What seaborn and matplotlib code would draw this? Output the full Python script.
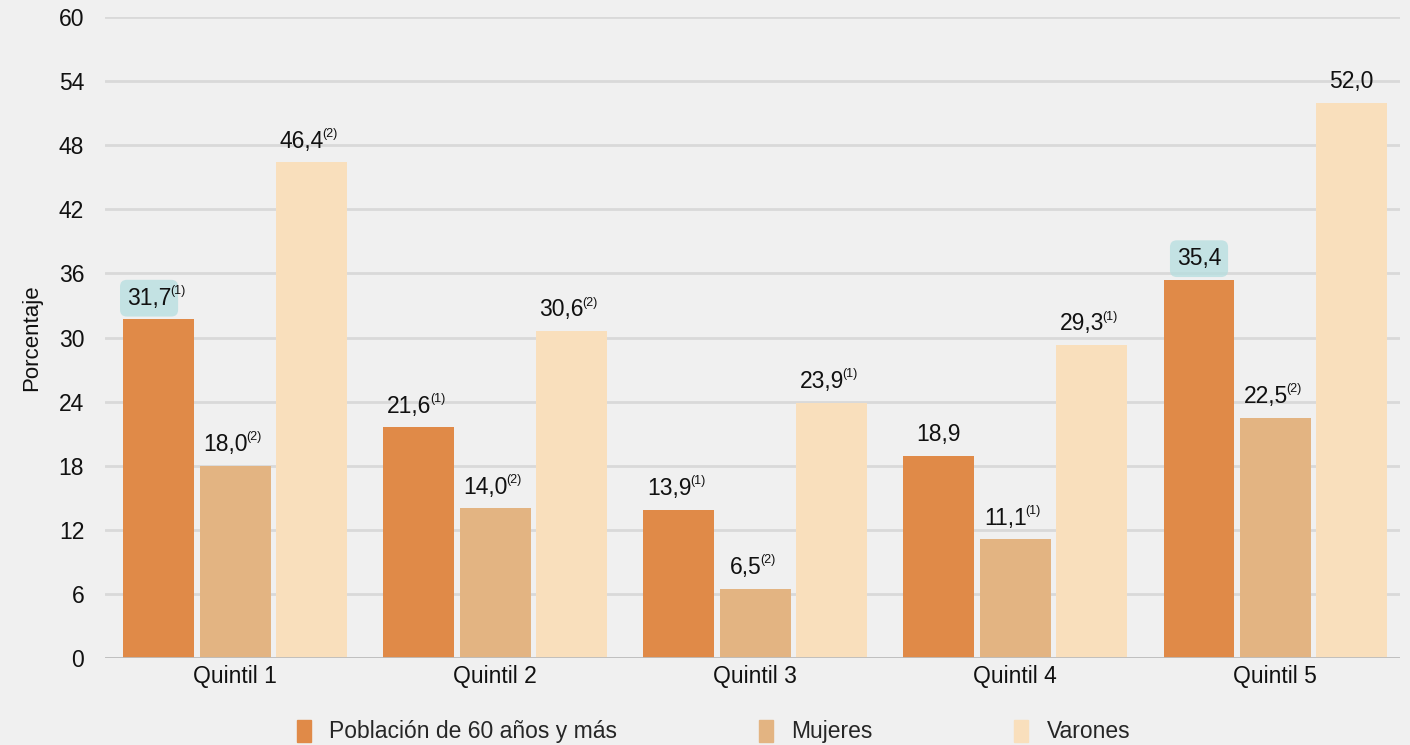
import matplotlib
matplotlib.use('Agg')
import matplotlib.pyplot as plt
import numpy as np
import pandas as pd
import seaborn as sns

quintiles = ['Quintil 1', 'Quintil 2', 'Quintil 3', 'Quintil 4', 'Quintil 5']
series_names = ['Población de 60 años y más', 'Mujeres', 'Varones']
poblacion = [31.7, 21.6, 13.9, 18.9, 35.4]
mujeres = [18.0, 14.0, 6.5, 11.1, 22.5]
varones = [46.4, 30.6, 23.9, 29.3, 52.0]
notas_poblacion = ['(1)', '(1)', '(1)', '', '']
notas_mujeres = ['(2)', '(2)', '(2)', '(1)', '(2)']
notas_varones = ['(2)', '(2)', '(1)', '(1)', '']
destacados = [(0, 0), (0, 4)]  # (serie, quintil) with brush highlight
yticks = [0, 6, 12, 18, 24, 30, 36, 42, 48, 54, 60]

colors = ['#E08A48', '#E3B482', '#F9DFBC']
bg = '#F0F0F0'

sns.set_style('white', {'axes.facecolor': bg, 'figure.facecolor': bg})
plt.rcParams['font.family'] = ['Liberation Sans', 'DejaVu Sans']

rows = []
for name, vals in zip(series_names, [poblacion, mujeres, varones]):
    for q, v in zip(quintiles, vals):
        rows.append([q, name, v])
df = pd.DataFrame(rows, columns=['Quintil', 'Serie', 'Valor'])

fig = plt.figure(figsize=(14.1, 7.45), dpi=100)
ax = fig.add_axes([0.0745, 0.1168, 0.9185, 0.8602])

sns.barplot(data=df, x='Quintil', y='Valor', hue='Serie', hue_order=series_names,
            palette=colors, width=0.88, gap=0.07, saturation=1, linewidth=0,
            ax=ax, legend=False)

ax.set_ylim(0, 60)
ax.set_xlim(-0.5, 4.48)
ax.set_yticks(yticks)
ax.yaxis.grid(True, color='#D9D9D9', linewidth=2)
ax.set_axisbelow(True)
ax.axhline(0, color='#BDBDBD', linewidth=2, zorder=1)
for s in ax.spines.values():
    s.set_visible(False)
ax.tick_params(axis='y', length=0, pad=15, labelsize=16.5, labelcolor='#111111')
ax.tick_params(axis='x', length=0, pad=5, labelsize=16.5, labelcolor='#111111')
ax.set_xlabel('')
ax.set_ylabel('Porcentaje', fontsize=16, labelpad=12, color='#111111')

notas = [notas_poblacion, notas_mujeres, notas_varones]
for si, cont in enumerate(ax.containers):
    for qi, bar in enumerate(cont):
        h = bar.get_height()
        x = bar.get_x() + bar.get_width() / 2
        txt = f'{h:.1f}'.replace('.', ',')
        nota = notas[si][qi]
        dx = -7 if nota else 0
        kw = {}
        if (si, qi) in destacados:
            kw['bbox'] = dict(boxstyle='round,pad=0.3', facecolor='#B5DEDF',
                              edgecolor='none', alpha=0.75)
        t = ax.annotate(txt, xy=(x, h), xytext=(dx, 7), textcoords='offset points',
                        ha='center', va='bottom', fontsize=16.5, color='#111111', **kw)
        if nota:
            ax.annotate(nota, xy=(0.97, 0.55), xycoords=t, ha='left', va='bottom',
                        fontsize=9, color='#111111')

handles = [plt.Rectangle((0, 0), 1, 1, color=c) for c in colors]
fig.legend(handles, series_names, loc='center', bbox_to_anchor=(0.506, 0.018), ncol=3,
           frameon=False, fontsize=16.5, handlelength=0.6, handleheight=1.1,
           handletextpad=0.8, columnspacing=6.2, borderpad=0.2)

fig.savefig('out.png', dpi=100, facecolor=bg)
